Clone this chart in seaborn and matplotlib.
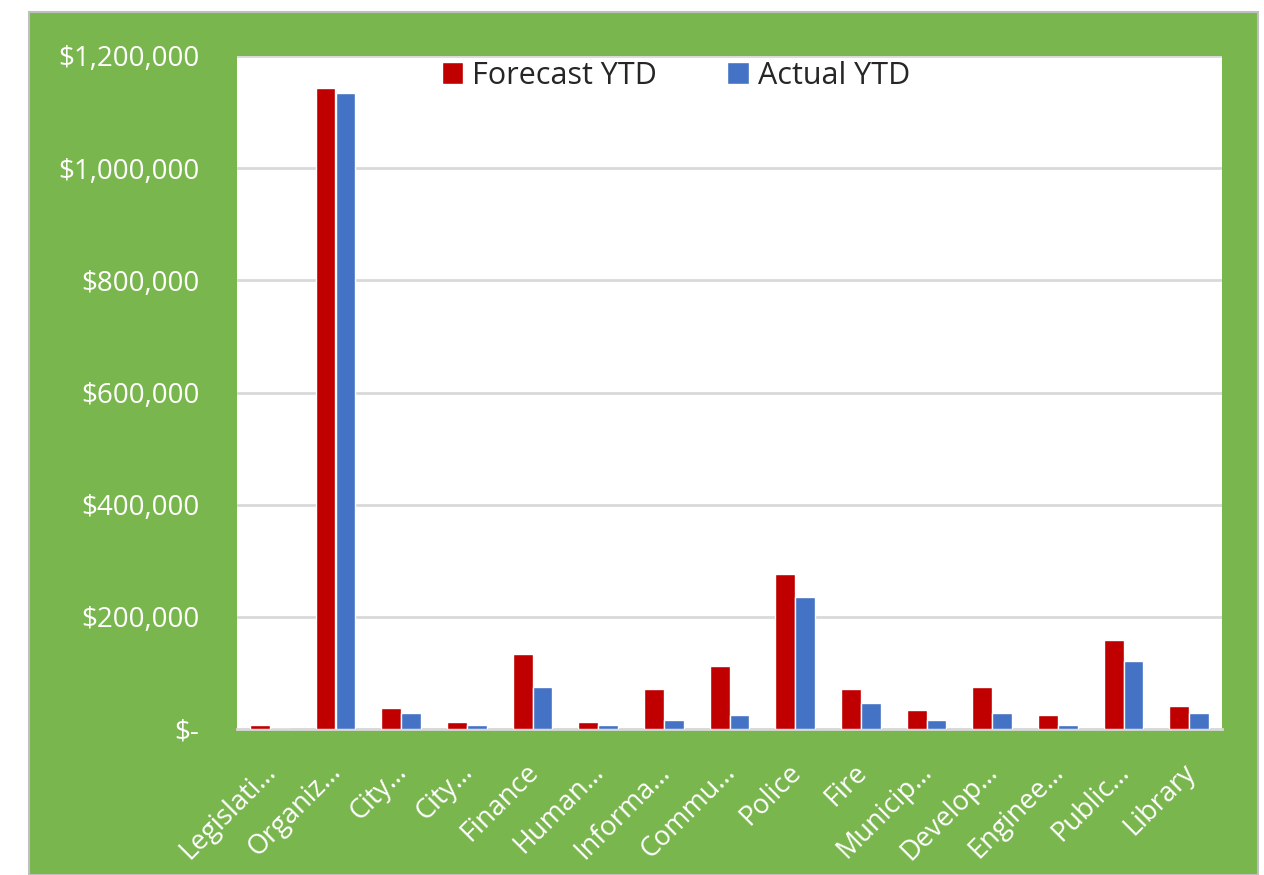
import pandas as pd
import numpy as np
import matplotlib.pyplot as plt
import matplotlib.transforms as mtransforms
from matplotlib.patches import Rectangle
from matplotlib.ticker import FuncFormatter
import seaborn as sns

departments = ["Legislati…", "Organiz…", "City…", "City…", "Finance", "Human…",
               "Informa…", "Commu…", "Police", "Fire", "Municip…", "Develop…",
               "Enginee…", "Public…", "Library"]
forecast_ytd = [8000, 1143000, 37500, 12500, 134000, 12500, 71500, 113000,
                277000, 71000, 33000, 75000, 24500, 159000, 41500]
actual_ytd = [0, 1134000, 28500, 8000, 75000, 7500, 16000, 24500,
              235000, 46000, 16000, 28500, 7500, 121000, 28500]

green = "#7AB64E"
red = "#C00000"
blue = "#4472C4"

# unique keys so the two "City…" bars stay separate
keys = [f"{i}" for i in range(len(departments))]
df = pd.DataFrame({
    "dept": keys * 2,
    "value": forecast_ytd + actual_ytd,
    "series": ["Forecast YTD"] * len(keys) + ["Actual YTD"] * len(keys),
})

sns.set_style("white")
plt.rcParams["font.family"] = ["Open Sans", "DejaVu Sans"]

fig = plt.figure(figsize=(12.64, 8.75), dpi=100, facecolor="white")
fig.add_artist(Rectangle((29 / 1264, 0), 1229 / 1264, 863 / 875,
                         transform=fig.transFigure, facecolor=green,
                         edgecolor="#BFBFBF", linewidth=1.5, zorder=-10))

ax = fig.add_axes([237 / 1264, 1 - 729 / 875, 985 / 1264, 673 / 875])
ax.set_facecolor("white")

sns.barplot(data=df, x="dept", y="value", hue="series", order=keys,
            palette={"Forecast YTD": red, "Actual YTD": blue},
            width=0.6, saturation=1, ax=ax, zorder=3)

ax.set_ylim(0, 1200000)
ax.set_xlim(-0.5, len(keys) - 0.5)
ax.set_yticks(np.arange(0, 1200001, 200000))
ax.yaxis.set_major_formatter(FuncFormatter(lambda v, p: "$-" if v == 0 else f"${v:,.0f}"))
ax.set_xticks(range(len(keys)))
ax.set_xticklabels(departments, rotation=45, ha="right", rotation_mode="anchor")
ax.grid(axis="y", color="#D9D9D9", linewidth=2, zorder=0)
ax.set_axisbelow(True)
for s in ["top", "right", "left"]:
    ax.spines[s].set_visible(False)
ax.spines["bottom"].set_color("#D9D9D9")
ax.spines["bottom"].set_linewidth(2)
ax.tick_params(axis="y", length=0, pad=27, labelsize=20, labelcolor="white")
ax.tick_params(axis="x", length=0, pad=21, labelsize=19.5, labelcolor="white")
offset = mtransforms.ScaledTranslation(-0.08, 0, fig.dpi_scale_trans)
for lbl in ax.get_xticklabels():
    lbl.set_transform(lbl.get_transform() + offset)
ax.set_xlabel("")
ax.set_ylabel("")

handles, labels = ax.get_legend_handles_labels()
ax.legend(handles, labels, loc="upper center", bbox_to_anchor=(676 / 1264, 1 - 33 / 875),
          bbox_transform=fig.transFigure, ncol=2, frameon=False, fontsize=22,
          handlelength=0.7, handleheight=0.7, handletextpad=0.3, columnspacing=2.3)

fig.savefig("out.png", dpi=100, facecolor="white")
